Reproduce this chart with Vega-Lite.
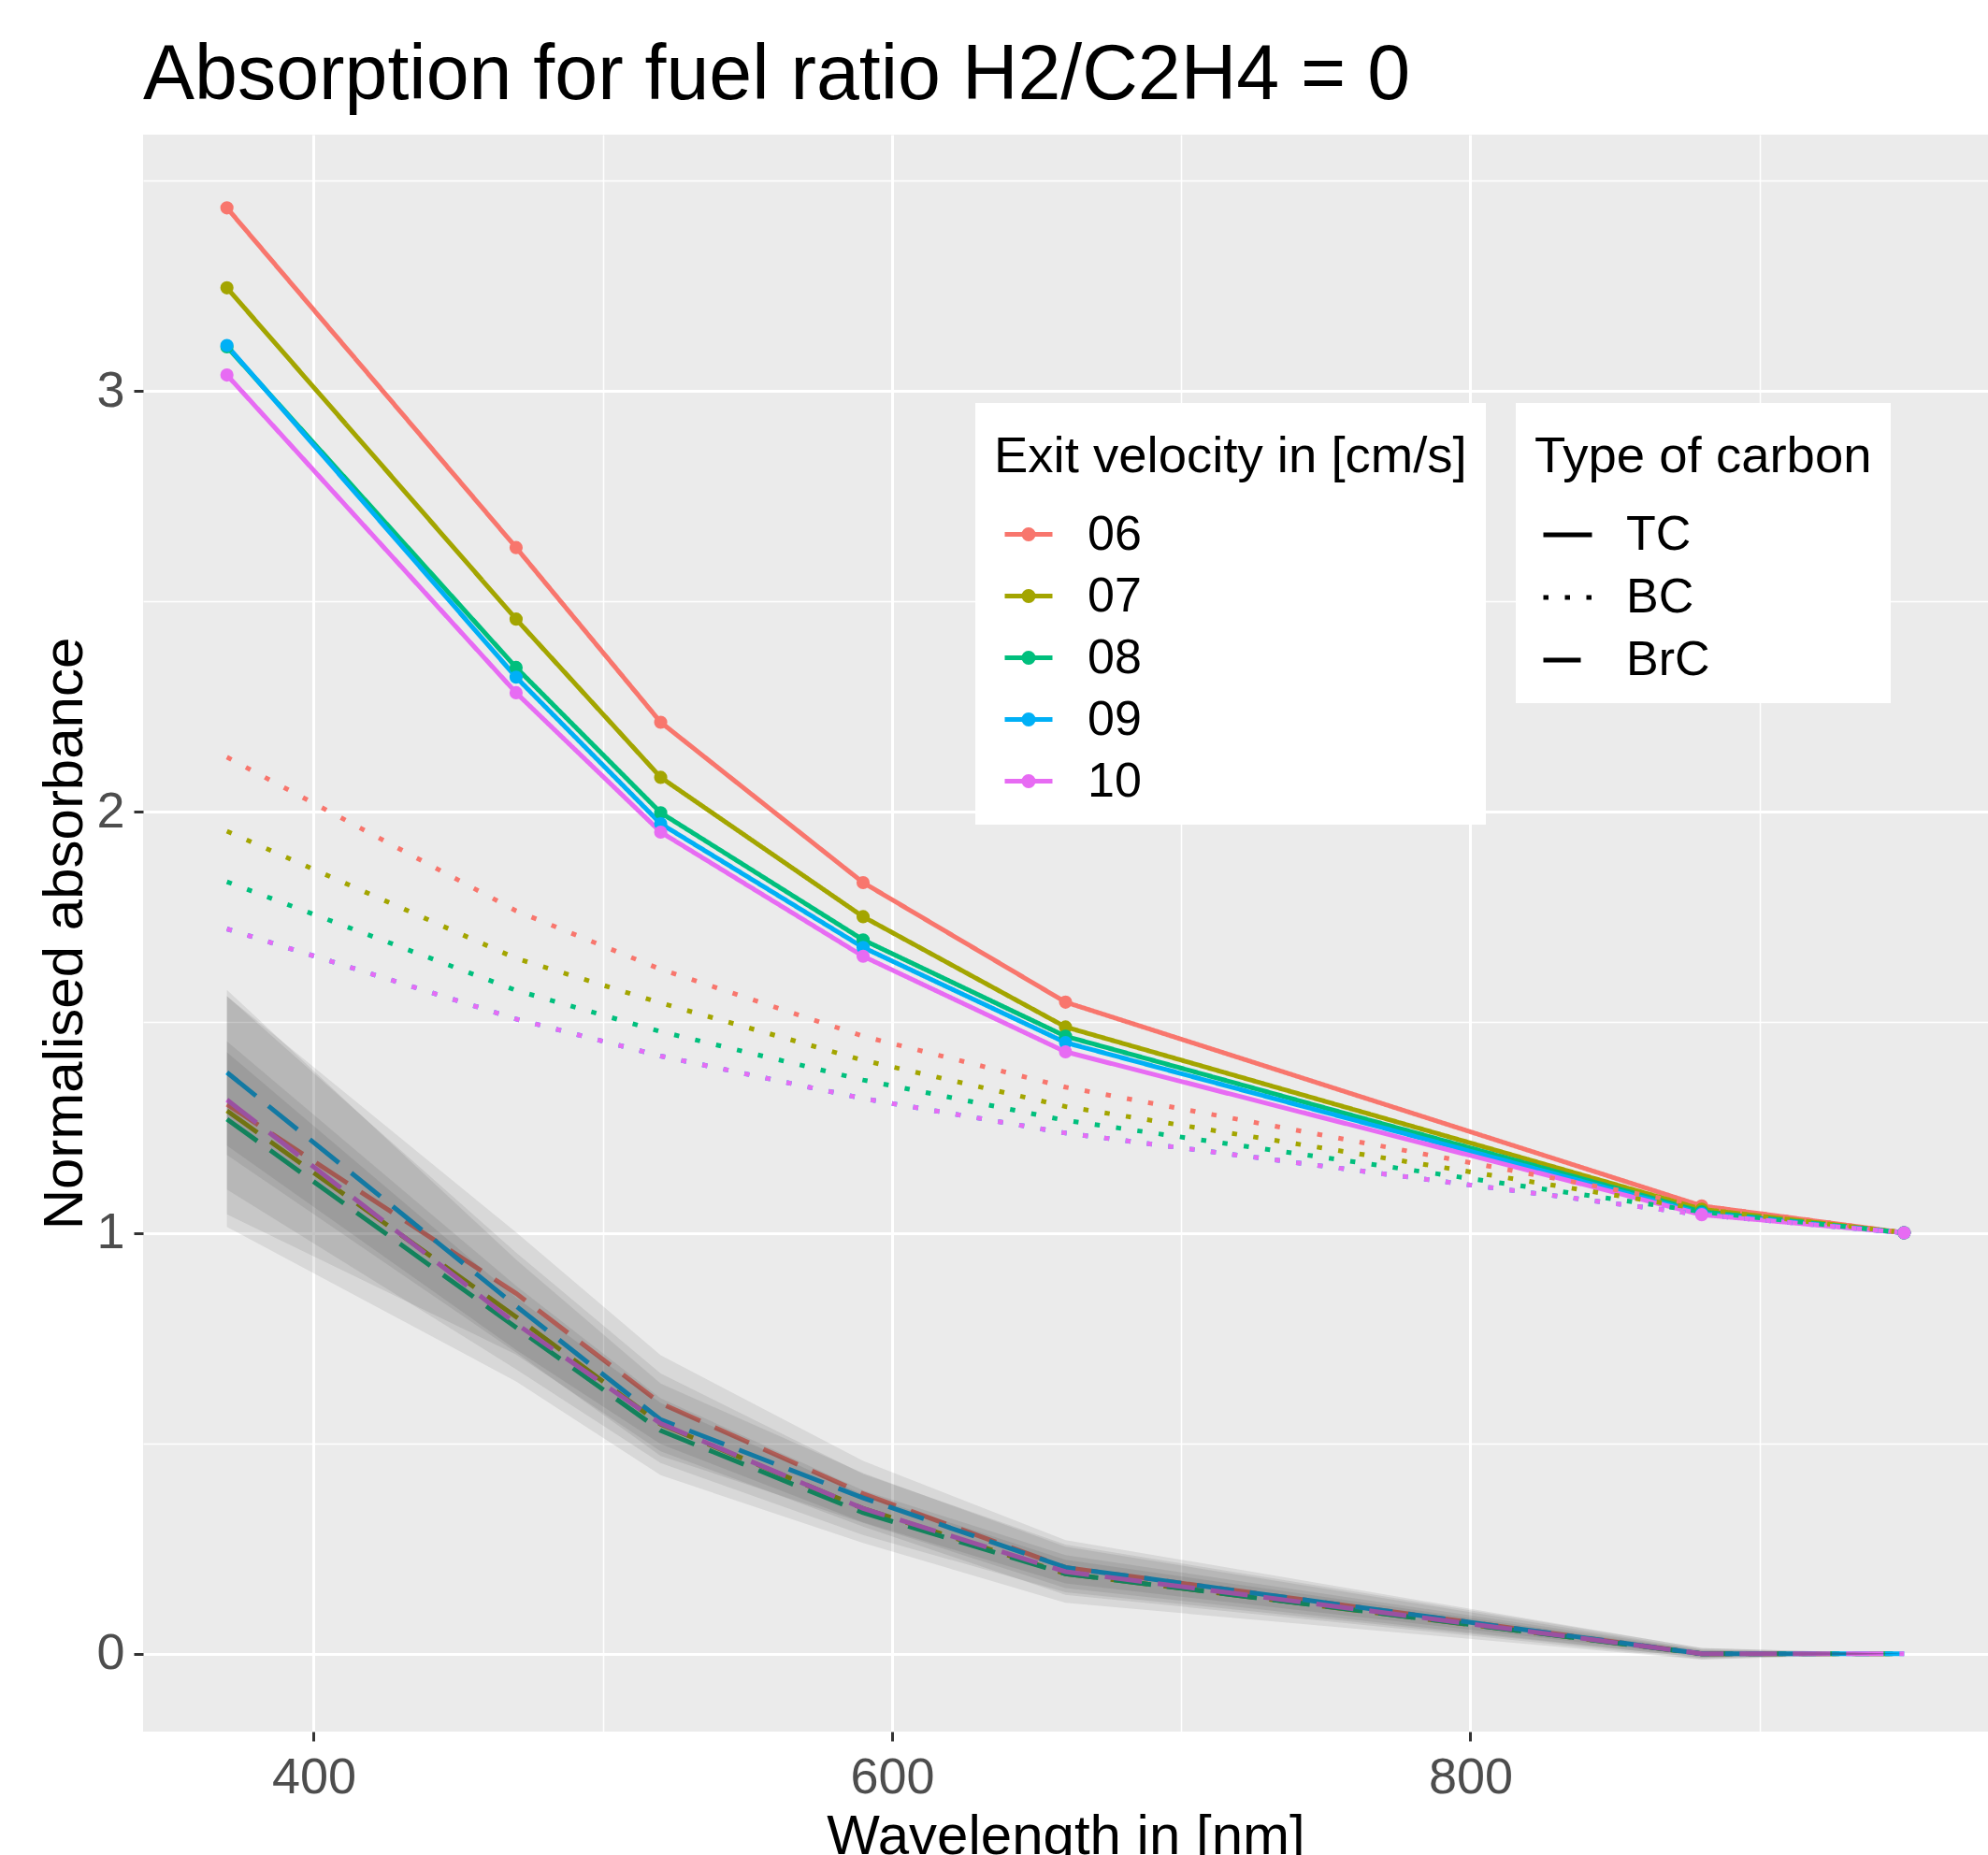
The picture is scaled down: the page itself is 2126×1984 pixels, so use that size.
{
  "$schema": "https://vega.github.io/schema/vega-lite/v6.json",
  "width": 1973,
  "height": 1708,
  "autosize": {"type": "none"},
  "padding": {"left": 153, "top": 144, "right": 0, "bottom": 132},
  "background": "white",
  "title": {"text": "Absorption for fuel ratio H2/C2H4 = 0", "anchor": "start", "frame": "group", "fontSize": 82.5, "font": "Liberation Sans", "fontWeight": "normal", "color": "black", "baseline": "alphabetic", "offset": 36, "dy": 80},
  "data": {"values": [
    {"v": "06", "t": "TC", "w": 370, "a": 3.435}, {"v": "06", "t": "TC", "w": 470, "a": 2.628}, {"v": "06", "t": "TC", "w": 520, "a": 2.213}, {"v": "06", "t": "TC", "w": 590, "a": 1.832}, {"v": "06", "t": "TC", "w": 660, "a": 1.548}, {"v": "06", "t": "TC", "w": 880, "a": 1.064}, {"v": "06", "t": "TC", "w": 950, "a": 1},
    {"v": "07", "t": "TC", "w": 370, "a": 3.245}, {"v": "07", "t": "TC", "w": 470, "a": 2.458}, {"v": "07", "t": "TC", "w": 520, "a": 2.082}, {"v": "07", "t": "TC", "w": 590, "a": 1.751}, {"v": "07", "t": "TC", "w": 660, "a": 1.489}, {"v": "07", "t": "TC", "w": 880, "a": 1.056}, {"v": "07", "t": "TC", "w": 950, "a": 1},
    {"v": "08", "t": "TC", "w": 370, "a": 3.105}, {"v": "08", "t": "TC", "w": 470, "a": 2.343}, {"v": "08", "t": "TC", "w": 520, "a": 1.998}, {"v": "08", "t": "TC", "w": 590, "a": 1.696}, {"v": "08", "t": "TC", "w": 660, "a": 1.467}, {"v": "08", "t": "TC", "w": 880, "a": 1.05}, {"v": "08", "t": "TC", "w": 950, "a": 1},
    {"v": "09", "t": "TC", "w": 370, "a": 3.108}, {"v": "09", "t": "TC", "w": 470, "a": 2.32}, {"v": "09", "t": "TC", "w": 520, "a": 1.972}, {"v": "09", "t": "TC", "w": 590, "a": 1.678}, {"v": "09", "t": "TC", "w": 660, "a": 1.452}, {"v": "09", "t": "TC", "w": 880, "a": 1.046}, {"v": "09", "t": "TC", "w": 950, "a": 1},
    {"v": "10", "t": "TC", "w": 370, "a": 3.038}, {"v": "10", "t": "TC", "w": 470, "a": 2.283}, {"v": "10", "t": "TC", "w": 520, "a": 1.952}, {"v": "10", "t": "TC", "w": 590, "a": 1.657}, {"v": "10", "t": "TC", "w": 660, "a": 1.43}, {"v": "10", "t": "TC", "w": 880, "a": 1.043}, {"v": "10", "t": "TC", "w": 950, "a": 1},
    {"v": "06", "t": "BC", "w": 370, "a": 2.13}, {"v": "06", "t": "BC", "w": 470, "a": 1.765}, {"v": "06", "t": "BC", "w": 520, "a": 1.626}, {"v": "06", "t": "BC", "w": 590, "a": 1.467}, {"v": "06", "t": "BC", "w": 660, "a": 1.346}, {"v": "06", "t": "BC", "w": 880, "a": 1.064}, {"v": "06", "t": "BC", "w": 950, "a": 1},
    {"v": "07", "t": "BC", "w": 370, "a": 1.954}, {"v": "07", "t": "BC", "w": 470, "a": 1.652}, {"v": "07", "t": "BC", "w": 520, "a": 1.546}, {"v": "07", "t": "BC", "w": 590, "a": 1.41}, {"v": "07", "t": "BC", "w": 660, "a": 1.3}, {"v": "07", "t": "BC", "w": 880, "a": 1.056}, {"v": "07", "t": "BC", "w": 950, "a": 1},
    {"v": "08", "t": "BC", "w": 370, "a": 1.834}, {"v": "08", "t": "BC", "w": 470, "a": 1.576}, {"v": "08", "t": "BC", "w": 520, "a": 1.478}, {"v": "08", "t": "BC", "w": 590, "a": 1.363}, {"v": "08", "t": "BC", "w": 660, "a": 1.267}, {"v": "08", "t": "BC", "w": 880, "a": 1.05}, {"v": "08", "t": "BC", "w": 950, "a": 1},
    {"v": "09", "t": "BC", "w": 370, "a": 1.722}, {"v": "09", "t": "BC", "w": 470, "a": 1.508}, {"v": "09", "t": "BC", "w": 520, "a": 1.42}, {"v": "09", "t": "BC", "w": 590, "a": 1.319}, {"v": "09", "t": "BC", "w": 660, "a": 1.237}, {"v": "09", "t": "BC", "w": 880, "a": 1.043}, {"v": "09", "t": "BC", "w": 950, "a": 1},
    {"v": "10", "t": "BC", "w": 370, "a": 1.722}, {"v": "10", "t": "BC", "w": 470, "a": 1.508}, {"v": "10", "t": "BC", "w": 520, "a": 1.42}, {"v": "10", "t": "BC", "w": 590, "a": 1.319}, {"v": "10", "t": "BC", "w": 660, "a": 1.237}, {"v": "10", "t": "BC", "w": 880, "a": 1.043}, {"v": "10", "t": "BC", "w": 950, "a": 1},
    {"v": "06", "t": "BrC", "w": 370, "a": 1.305, "lo": 1.044, "hi": 1.562}, {"v": "06", "t": "BrC", "w": 470, "a": 0.856, "lo": 0.711, "hi": 1.001}, {"v": "06", "t": "BrC", "w": 520, "a": 0.595, "lo": 0.481, "hi": 0.709}, {"v": "06", "t": "BrC", "w": 590, "a": 0.38, "lo": 0.302, "hi": 0.458}, {"v": "06", "t": "BrC", "w": 660, "a": 0.205, "lo": 0.14, "hi": 0.27}, {"v": "06", "t": "BrC", "w": 880, "a": 0, "lo": -0.013, "hi": 0.013}, {"v": "06", "t": "BrC", "w": 950, "a": 0, "lo": 0, "hi": 0},
    {"v": "07", "t": "BrC", "w": 370, "a": 1.29, "lo": 1.014, "hi": 1.562}, {"v": "07", "t": "BrC", "w": 470, "a": 0.8, "lo": 0.647, "hi": 0.953}, {"v": "07", "t": "BrC", "w": 520, "a": 0.545, "lo": 0.424, "hi": 0.666}, {"v": "07", "t": "BrC", "w": 590, "a": 0.345, "lo": 0.263, "hi": 0.427}, {"v": "07", "t": "BrC", "w": 660, "a": 0.19, "lo": 0.121, "hi": 0.259}, {"v": "07", "t": "BrC", "w": 880, "a": 0, "lo": -0.014, "hi": 0.014}, {"v": "07", "t": "BrC", "w": 950, "a": 0, "lo": 0, "hi": 0},
    {"v": "08", "t": "BrC", "w": 370, "a": 1.27, "lo": 1.103, "hi": 1.455}, {"v": "08", "t": "BrC", "w": 470, "a": 0.775, "lo": 0.676, "hi": 0.874}, {"v": "08", "t": "BrC", "w": 520, "a": 0.53, "lo": 0.453, "hi": 0.607}, {"v": "08", "t": "BrC", "w": 590, "a": 0.335, "lo": 0.282, "hi": 0.388}, {"v": "08", "t": "BrC", "w": 660, "a": 0.19, "lo": 0.146, "hi": 0.234}, {"v": "08", "t": "BrC", "w": 880, "a": 0, "lo": -0.009, "hi": 0.009}, {"v": "08", "t": "BrC", "w": 950, "a": 0, "lo": 0, "hi": 0},
    {"v": "09", "t": "BrC", "w": 370, "a": 1.381, "lo": 1.185, "hi": 1.577}, {"v": "09", "t": "BrC", "w": 470, "a": 0.826, "lo": 0.716, "hi": 0.936}, {"v": "09", "t": "BrC", "w": 520, "a": 0.556, "lo": 0.47, "hi": 0.642}, {"v": "09", "t": "BrC", "w": 590, "a": 0.37, "lo": 0.311, "hi": 0.429}, {"v": "09", "t": "BrC", "w": 660, "a": 0.205, "lo": 0.156, "hi": 0.254}, {"v": "09", "t": "BrC", "w": 880, "a": 0, "lo": -0.01, "hi": 0.01}, {"v": "09", "t": "BrC", "w": 950, "a": 0, "lo": 0, "hi": 0},
    {"v": "10", "t": "BrC", "w": 370, "a": 1.316, "lo": 1.207, "hi": 1.429}, {"v": "10", "t": "BrC", "w": 470, "a": 0.784, "lo": 0.722, "hi": 0.846}, {"v": "10", "t": "BrC", "w": 520, "a": 0.547, "lo": 0.498, "hi": 0.596}, {"v": "10", "t": "BrC", "w": 590, "a": 0.345, "lo": 0.312, "hi": 0.378}, {"v": "10", "t": "BrC", "w": 660, "a": 0.195, "lo": 0.167, "hi": 0.223}, {"v": "10", "t": "BrC", "w": 880, "a": 0, "lo": -0.006, "hi": 0.006}, {"v": "10", "t": "BrC", "w": 950, "a": 0, "lo": 0, "hi": 0}
  ]},
  "layer": [
    {
      "mark": {"type": "line", "strokeWidth": 5, "strokeCap": "butt"},
      "encoding": {
        "x": {"field": "w", "type": "quantitative", "title": "Wavelength in [nm]", "scale": {"domain": [341, 979], "nice": false, "zero": false},
          "axis": {"values": [400, 500, 600, 700, 800, 900], "labelExpr": "datum.value % 200 == 0 ? format(datum.value, 'd') : ''",
            "tickOpacity": {"condition": {"test": "datum.value % 200 == 0", "value": 1}, "value": 0},
            "gridWidth": {"condition": {"test": "datum.value % 200 == 0", "value": 3}, "value": 1.5},
            "labelPadding": 12, "titlePadding": 7}},
        "y": {"field": "a", "type": "quantitative", "title": "Normalised absorbance", "scale": {"domain": [-0.185, 3.609], "nice": false, "zero": false},
          "axis": {"values": [0, 0.5, 1, 1.5, 2, 2.5, 3, 3.5], "labelExpr": "datum.value % 1 == 0 ? format(datum.value, 'd') : ''",
            "tickOpacity": {"condition": {"test": "datum.value % 1 == 0", "value": 1}, "value": 0},
            "gridWidth": {"condition": {"test": "datum.value % 1 == 0", "value": 3}, "value": 1.5},
            "labelPadding": 10, "titlePadding": 2}},
        "color": {"field": "v", "type": "nominal", "scale": {"domain": ["06", "07", "08", "09", "10"], "range": ["#F8766D", "#A3A500", "#00BF7D", "#00B0F6", "#E76BF3"]},
          "legend": {"title": "Exit velocity in [cm/s]", "orient": "none", "legendX": 890, "legendY": 287,
            "symbolType": "M-1,0L1,0M-0.2,0A0.2,0.2,0,1,0,0.2,0A0.2,0.2,0,1,0,-0.2,0", "symbolSize": 2601, "symbolStrokeWidth": 5, "symbolOffset": 9, "labelOffset": 35,
            "encode": {"symbols": {"update": {"fill": {"scale": "color", "field": "value"}, "stroke": {"scale": "color", "field": "value"}, "opacity": {"value": 1}, "fillOpacity": {"value": 1}}}}}},
        "strokeDash": {"field": "t", "type": "nominal", "scale": {"domain": ["TC", "BC", "BrC"], "range": [[1, 0], [5.5, 17.5], [40, 17]]},
          "legend": {"title": "Type of carbon", "orient": "none", "legendX": 1468, "legendY": 287, "symbolType": "stroke", "symbolSize": 2704, "symbolStrokeWidth": 5, "symbolStrokeColor": "black", "symbolOffset": 7, "labelOffset": 34}}
      }
    },
    {
      "transform": [{"filter": "datum.t == 'TC'"}],
      "mark": {"type": "point", "filled": true, "size": 200, "opacity": 1},
      "encoding": {
        "x": {"field": "w", "type": "quantitative", "title": "Wavelength in [nm]"},
        "y": {"field": "a", "type": "quantitative", "title": "Normalised absorbance"},
        "color": {"field": "v", "type": "nominal",
          "legend": {"title": "Exit velocity in [cm/s]", "orient": "none", "legendX": 890, "legendY": 287,
            "symbolType": "M-1,0L1,0M-0.2,0A0.2,0.2,0,1,0,0.2,0A0.2,0.2,0,1,0,-0.2,0", "symbolSize": 2601, "symbolStrokeWidth": 5, "symbolOffset": 9, "labelOffset": 35,
            "encode": {"symbols": {"update": {"fill": {"scale": "color", "field": "value"}, "stroke": {"scale": "color", "field": "value"}, "opacity": {"value": 1}, "fillOpacity": {"value": 1}}}}}}
      }
    },
    {
      "transform": [{"filter": "datum.t == 'BrC'"}],
      "mark": {"type": "area", "fill": "#333333", "fillOpacity": 0.1},
      "encoding": {
        "x": {"field": "w", "type": "quantitative", "title": "Wavelength in [nm]"},
        "y": {"field": "lo", "type": "quantitative", "title": "Normalised absorbance"},
        "y2": {"field": "hi"},
        "detail": {"field": "v", "type": "nominal"}
      }
    }
  ],
  "config": {
    "view": {"fill": "#EBEBEB", "stroke": null},
    "font": "Liberation Sans",
    "axis": {"domain": false, "tickSize": 10, "tickWidth": 3, "tickColor": "#333333", "gridColor": "#FFFFFF", "labelFont": "Liberation Sans", "labelFontSize": 54, "labelColor": "#4D4D4D", "labelOverlap": false, "labelFlush": false, "titleFont": "Liberation Sans", "titleFontSize": 60, "titleFontWeight": "normal", "titleColor": "black"},
    "legend": {"fillColor": "white", "padding": 20, "rowPadding": 12, "titlePadding": 38, "titleBaseline": "line-top", "titleLineHeight": 77, "titleFont": "Liberation Sans", "titleFontSize": 54.5, "titleFontWeight": "normal", "titleColor": "black", "labelFont": "Liberation Sans", "labelFontSize": 52, "labelColor": "black", "labelLimit": 1000, "titleLimit": 2000}
  }
}
